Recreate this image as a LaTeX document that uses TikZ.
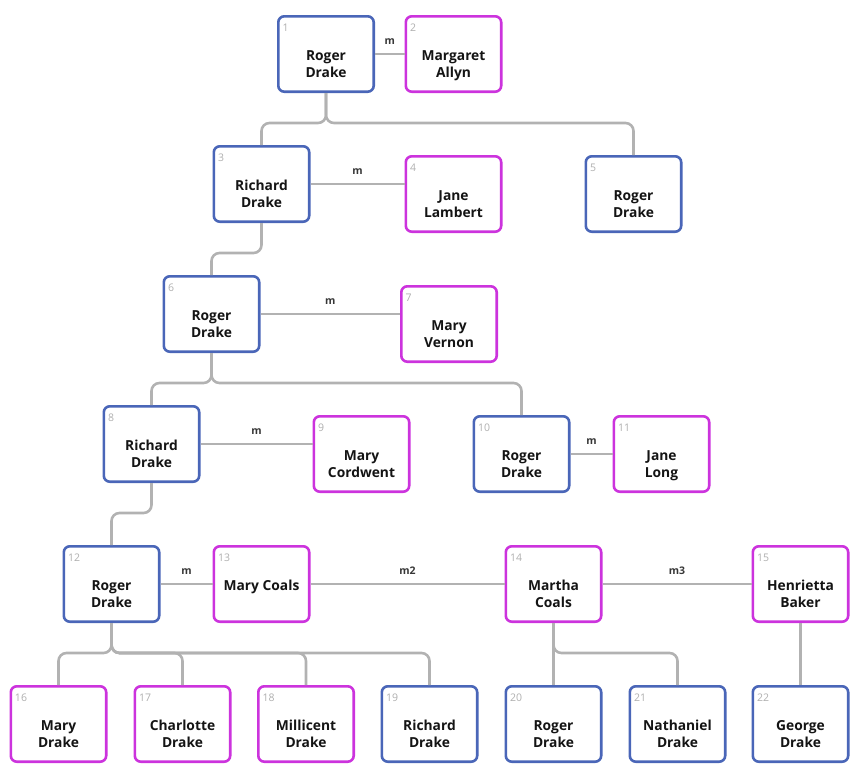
\documentclass[tikz,border=0pt]{standalone}
\usepackage{fontspec}
\setmainfont{Open Sans}
\definecolor{mblue}{RGB}{74,102,184}
\definecolor{mmag}{RGB}{204,51,221}
\definecolor{lgray}{RGB}{178,178,178}
\definecolor{ngray}{RGB}{175,175,175}
\definecolor{tdark}{RGB}{20,20,20}
\tikzset{
  person/.style={draw, line width=2.6pt, rounded corners=6pt, minimum width=95.4pt, minimum height=75.4pt, inner sep=0pt, fill=white},
  male/.style={person, draw=mblue},
  female/.style={person, draw=mmag},
  numlab/.style={anchor=north west, inner sep=0pt, text=ngray, font=\fontsize{10.5}{12}\selectfont},
  namelab/.style={anchor=north, inner sep=0pt, align=center, text=tdark, font=\bfseries\fontsize{13.8}{17}\selectfont},
  link/.style={draw=lgray, line width=2.6pt, rounded corners=8pt},
  mlab/.style={midway, anchor=south, inner sep=0pt, yshift=8pt, text=tdark!85, font=\bfseries\fontsize{10.5}{12}\selectfont},
}
\newcommand{\pnode}[5]{%
  \node[#1] (#2) at (#4) {};
  \node[numlab] (#2num) at ([xshift=5.3pt,yshift=-8.5pt]#2.north west) {#3};
  \node[namelab] (#2name) at ([yshift=6pt]#2.center) {\strut #5};
}
\begin{document}
\begin{tikzpicture}[x=1pt,y=-1pt]
\useasboundingbox (0,0) rectangle (863,777);
% row 1
\pnode{male}{n1}{1}{326,54}{Roger\\Drake}
\pnode{female}{n2}{2}{453.5,54}{Margaret\\Allyn}
% row 2
\pnode{male}{n3}{3}{261.5,184}{Richard\\Drake}
\pnode{female}{n4}{4}{453.5,194}{Jane\\Lambert}
\pnode{male}{n5}{5}{633.5,194}{Roger\\Drake}
% row 3
\pnode{male}{n6}{6}{211.5,314}{Roger\\Drake}
\pnode{female}{n7}{7}{449,324}{Mary\\Vernon}
% row 4
\pnode{male}{n8}{8}{151.5,444}{Richard\\Drake}
\pnode{female}{n9}{9}{361.5,454}{Mary\\Cordwent}
\pnode{male}{n10}{10}{521.5,454}{Roger\\Drake}
\pnode{female}{n11}{11}{661.5,454}{Jane\\Long}
% row 5
\pnode{male}{n12}{12}{111.5,584}{Roger\\Drake}
\pnode{female}{n13}{13}{261.5,584}{Mary Coals}
\pnode{female}{n14}{14}{553.5,584}{Martha\\Coals}
\pnode{female}{n15}{15}{800.5,584}{Henrietta\\Baker}
% row 6
\pnode{female}{n16}{16}{58.5,724}{Mary\\Drake}
\pnode{female}{n17}{17}{182.5,724}{Charlotte\\Drake}
\pnode{female}{n18}{18}{306,724}{Millicent\\Drake}
\pnode{male}{n19}{19}{429.5,724}{Richard\\Drake}
\pnode{male}{n20}{20}{553.5,724}{Roger\\Drake}
\pnode{male}{n21}{21}{677.5,724}{Nathaniel\\Drake}
\pnode{male}{n22}{22}{800.5,724}{George\\Drake}
% marriages
\draw[link] (n1.east) -- node[mlab]{m} (n1.east -| n2.west);
\draw[link] (n3.east) -- node[mlab]{m} (n3.east -| n4.west);
\draw[link] (n6.east) -- node[mlab]{m} (n6.east -| n7.west);
\draw[link] (n8.east) -- node[mlab]{m} (n8.east -| n9.west);
\draw[link] (n10.east) -- node[mlab]{m} (n10.east -| n11.west);
\draw[link] (n12.east) -- node[mlab]{m} (n12.east -| n13.west);
\draw[link] (n13.east) -- node[mlab]{m2} (n13.east -| n14.west);
\draw[link] (n14.east) -- node[mlab]{m3} (n14.east -| n15.west);
% descent
\draw[link] (n1.south) -- ++(0,30) -| (n3.north);
\draw[link] (n1.south) -- ++(0,30) -| (n5.north);
\draw[link] (n3.south) -- ++(0,30) -| (n6.north);
\draw[link] (n6.south) -- ++(0,30) -| (n8.north);
\draw[link] (n6.south) -- ++(0,30) -| (n10.north);
\draw[link] (n8.south) -- ++(0,30) -| (n12.north);
\draw[link] (n12.south) -- ++(0,30) -| (n16.north);
\draw[link] (n12.south) -- ++(0,30) -| (n17.north);
\draw[link] (n12.south) -- ++(0,30) -| (n18.north);
\draw[link] (n12.south) -- ++(0,30) -| (n19.north);
\draw[link] (n14.south) -- (n20.north);
\draw[link] (n14.south) -- ++(0,30) -| (n21.north);
\draw[link] (n15.south) -- (n22.north);
\end{tikzpicture}
\end{document}
